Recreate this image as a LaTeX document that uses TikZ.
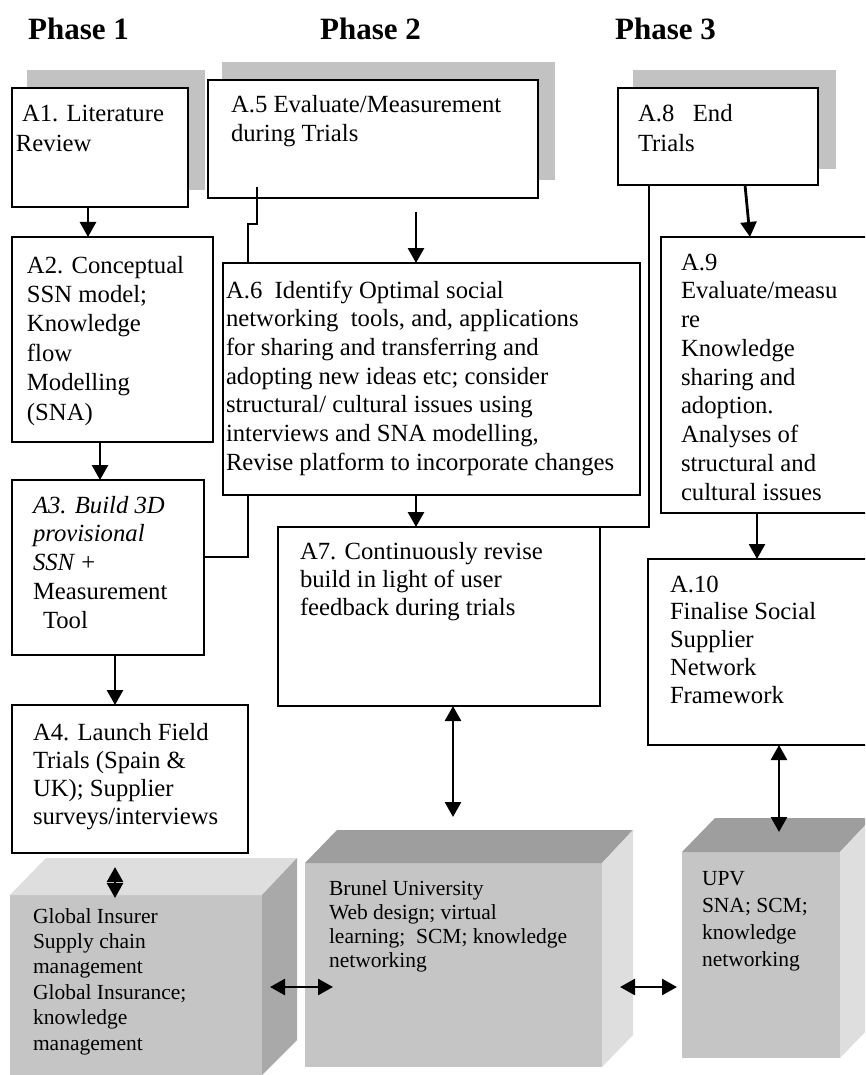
\documentclass[tikz,border=0pt]{standalone}
\usepackage{fontspec}
\setmainfont{Liberation Serif}
\usetikzlibrary{arrows.meta}
\definecolor{shadowgray}{HTML}{C2C2C2}
\definecolor{cubefront}{HTML}{C5C5C5}
\definecolor{cubelight}{HTML}{DEDEDE}
\definecolor{cubedark}{HTML}{9E9E9E}
\definecolor{cubemid}{HTML}{A9A9A9}
\newcommand\firstln{\rule{0pt}{20pt}}
\begin{document}
\begin{tikzpicture}[x=1pt,y=-1pt,
  box/.style={draw, line width=2.8pt, fill=white, inner sep=0pt, outer sep=0pt, anchor=north west},
  txt/.style={anchor=north west, inner sep=0pt, outer sep=0pt, align=left},
  shadowbox/.style={fill=shadowgray},
  cubeface/.style={fill=cubefront, draw=none, inner sep=0pt, outer sep=0pt, anchor=north west},
  link/.style={line width=2.6pt},
  arr/.style={line width=2.8pt, -{Triangle[width=16pt,length=15pt]}},
  dbl/.style={line width=2.6pt, {Triangle[width=16pt,length=15pt]}-{Triangle[width=16pt,length=15pt]}},
  phase/.style={anchor=base west, inner sep=0pt, font=\bfseries\fontsize{31}{31}\selectfont}
]
\useasboundingbox (0,0) rectangle (865,1075);
\fill[white] (0,0) rectangle (865,1075);
\clip (0,0) rectangle (865,1075);

% phase titles
\node[phase] (p1) at (28,40) {Phase 1};
\node[phase] (p2) at (320,40) {Phase 2};
\node[phase] (p3) at (615,40) {Phase 3};

% shadows
\fill[shadowbox] (27,70) rectangle (205,190);
\fill[shadowbox] (222,62) rectangle (555,180);
\fill[shadowbox] (633,70) rectangle (836,169);

% cubes
\node[cubeface, minimum width=252pt, minimum height=190pt] (c1) at (10,895) {};
\fill[cubelight] (10,895) -- (262,895) -- (297,858) -- (46,858) -- cycle;
\fill[cubemid] (262,895) -- (297,858) -- (297,1040) -- (262,1075) -- cycle;

\node[cubeface, minimum width=297pt, minimum height=204pt] (c2) at (305,863) {};
\fill[cubedark] (305,863) -- (602,863) -- (633,830) -- (337,830) -- cycle;
\fill[cubelight] (602,863) -- (633,830) -- (633,1035) -- (602,1067) -- cycle;

\node[cubeface, minimum width=158pt, minimum height=206pt] (c3) at (682,852) {};
\fill[cubedark] (682,852) -- (840,852) -- (872,818) -- (715,818) -- cycle;
\fill[cubelight] (840,852) -- (872,818) -- (872,1025) -- (840,1058) -- cycle;

% boxes
\node[box, minimum width=176pt, minimum height=119pt] (a1) at (12,88) {};
\node[box, minimum width=330pt, minimum height=118pt] (a5) at (208,80) {};
\node[box, minimum width=200pt, minimum height=97pt] (a8) at (618,88) {};
\node[box, minimum width=201pt, minimum height=205pt] (a2) at (12,237) {};
\node[box, minimum width=192pt, minimum height=175pt] (a3) at (12,480) {};

% hidden connector A5 -> A3 (behind A6)
\draw[link] (257,187) -- (257,224) -- (248,224) -- (248,557) -- (a3.east |- 0,557);

\node[box, minimum width=417pt, minimum height=232pt] (a6) at (223,263) {};
\node[box, minimum width=322pt, minimum height=179pt] (a7) at (278,527) {};
\node[box, minimum width=230pt, minimum height=276pt] (a9) at (661,237) {};
\node[box, minimum width=230pt, minimum height=186pt] (a10) at (648,559) {};
\node[box, minimum width=236pt, minimum height=148pt] (a4) at (12,705) {};

% connector A8 -> A7
\draw[link] (649,0 |- a8.south) -- (649,0 |- a7.north east) -- (a7.north east);

% texts
\node[txt, font=\fontsize{24.7}{30}\selectfont] (a1t) at (16,102) {\firstln\hspace{6pt}A1. Literature\\Review};
\node[txt, font=\fontsize{24.7}{29}\selectfont] (a5t) at (231,93) {\firstln A.5 Evaluate/Measurement\\during Trials};
\node[txt, font=\fontsize{24.7}{30}\selectfont] (a8t) at (638,102) {\firstln A.8\ \ \ End\\Trials};
\node[txt, font=\fontsize{24.7}{29.4}\selectfont] (a2t) at (27,253) {\firstln A2. Conceptual\\SSN model;\\Knowledge\\flow\\Modelling\\(SNA)};
\node[txt, font=\fontsize{24.7}{28.7}\selectfont] (a6t) at (226,278) {\firstln A.6\ \ Identify Optimal social\\networking\ \ tools, and, applications\\for sharing and transferring and\\adopting new ideas etc; consider\\structural/ cultural issues using\\interviews and SNA modelling,\\Revise platform to incorporate changes};
\node[txt, font=\fontsize{24.7}{28.75}\selectfont] (a3t) at (33,493) {\firstln\textit{A3. Build 3D}\\\textit{provisional}\\\textit{SSN} +\\Measurement\\\hspace{10pt}Tool};
\node[txt, font=\fontsize{24.7}{28.75}\selectfont] (a9t) at (681,250) {\firstln A.9\\Evaluate/measu\\re\\Knowledge\\sharing and\\adoption.\\Analyses of\\structural and\\cultural issues};
\node[txt, font=\fontsize{24.7}{28}\selectfont] (a7t) at (300,539) {\firstln A7. Continuously revise\\build in light of user\\feedback during trials};
\node[txt, font=\fontsize{24.7}{27.75}\selectfont] (a10t) at (670,572) {\firstln A.10\\Finalise Social\\Supplier\\Network\\Framework};
\node[txt, font=\fontsize{24.7}{28.3}\selectfont] (a4t) at (33,720) {\firstln A4. Launch Field\\Trials (Spain \&\\UK); Supplier\\surveys/interviews};
\node[txt, font=\fontsize{21.5}{25.4}\selectfont] (c1t) at (33,903) {\firstln Global Insurer\\Supply chain\\management\\Global Insurance;\\knowledge\\management};
\node[txt, font=\fontsize{21.5}{24}\selectfont] (c2t) at (329,875) {\firstln Brunel University\\Web design; virtual\\learning;\ \ SCM; knowledge\\networking};
\node[txt, font=\fontsize{21.5}{27.3}\selectfont] (c3t) at (702,865) {\firstln UPV\\SNA; SCM;\\knowledge\\networking};

% arrows
\coordinate (a5a) at (416,212);
\coordinate (c1top) at (115,867);
\coordinate (c1in) at (115,898);
\coordinate (c2top) at (453,817);
\coordinate (c3top) at (779,832);
\coordinate (c1r) at (270,987);
\coordinate (c2l) at (333,987);
\coordinate (c2r) at (620,987);
\coordinate (c3l) at (677,987);

\draw[arr] (88,0 |- a1.south) -- (88,0 |- a2.north);
\draw[arr] (100,0 |- a2.south) -- (100,0 |- a3.north);
\draw[arr] (115,0 |- a3.south) -- (115,0 |- a4.north);
\draw[arr] (a5a) -- (416,0 |- a6.north);
\draw[arr] (416,0 |- a6.south) -- (416,0 |- a7.north);
\draw[arr] (745,0 |- a8.south) -- (750,0 |- a9.north);
\draw[arr] (757,0 |- a9.south) -- (757,0 |- a10.north);
\draw[dbl] (453,0 |- a7.south) -- (c2top);
\draw[dbl] (779,0 |- a10.south) -- (c3top);
\draw[dbl] (c1top) -- (c1in);
\draw[dbl] (c1r) -- (c2l);
\draw[dbl] (c2r) -- (c3l);
\end{tikzpicture}
\end{document}
